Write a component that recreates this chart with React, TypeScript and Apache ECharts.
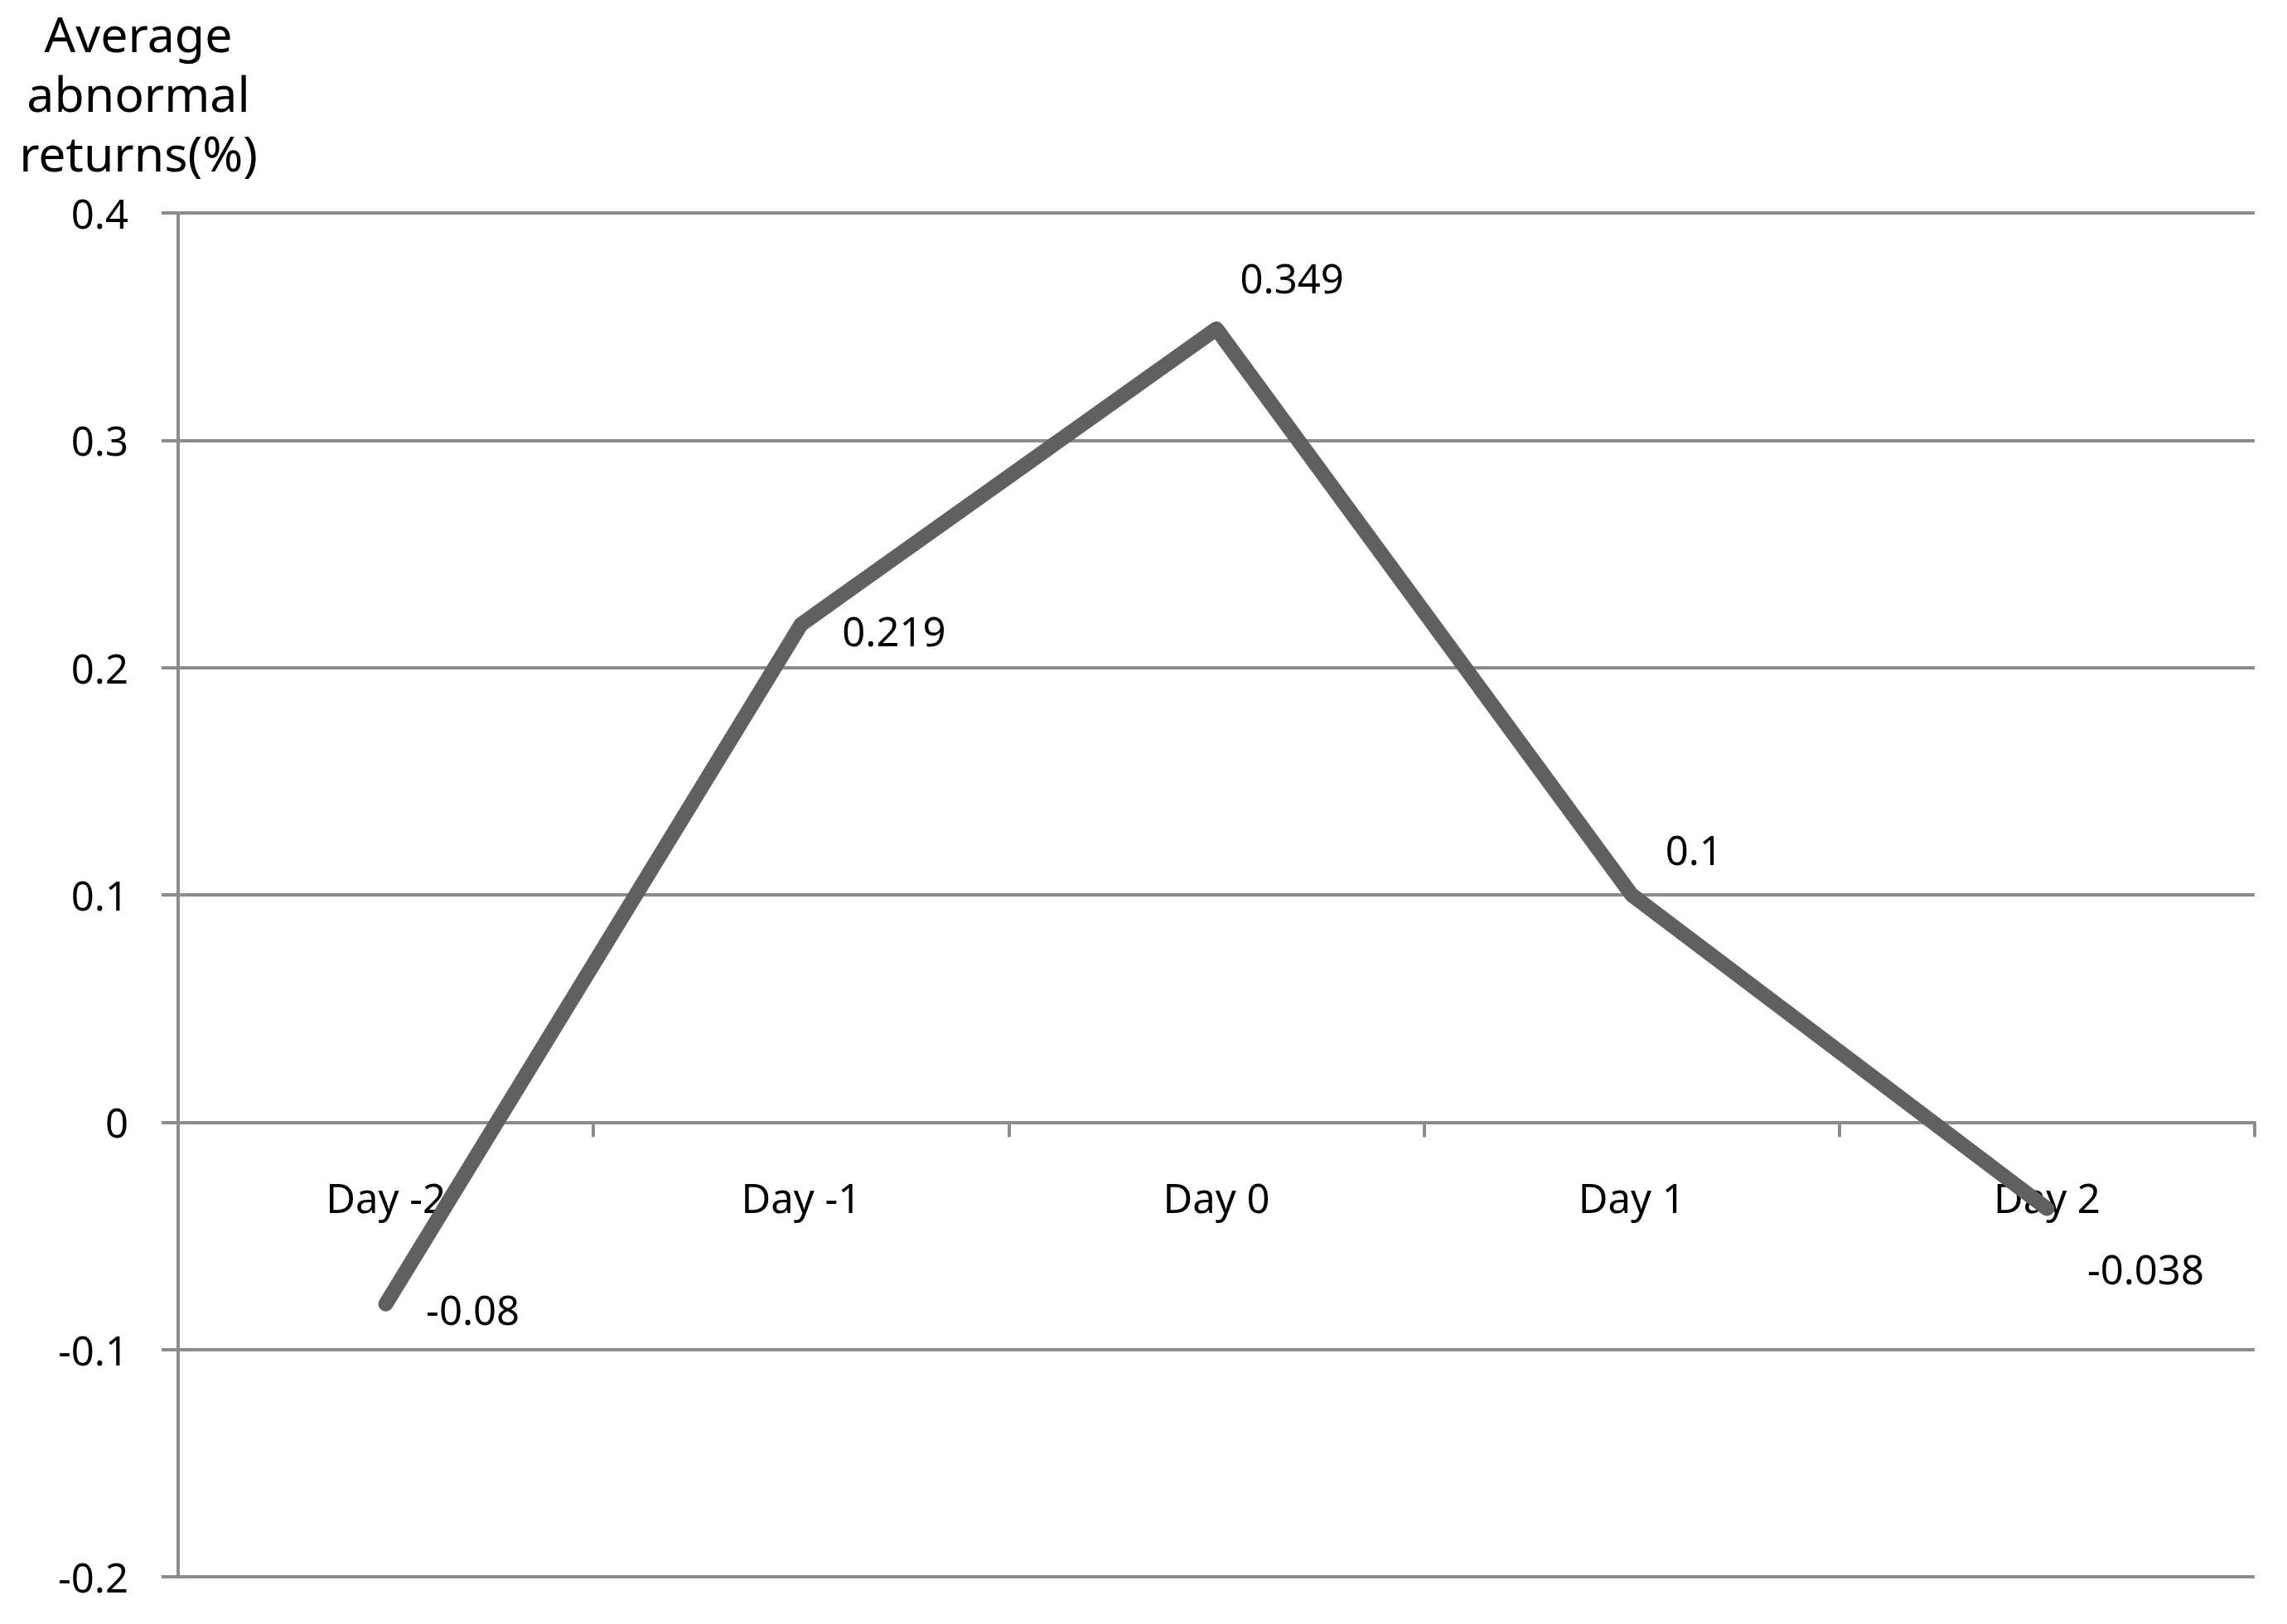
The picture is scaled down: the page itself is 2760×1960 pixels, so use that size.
import React, { useEffect, useRef } from "react";
import * as echarts from "echarts";

const categories = ["Day -2", "Day -1", "Day 0", "Day 1", "Day 2"];
const values = [-0.08, 0.219, 0.349, 0.1, -0.038];
const labelOffsets: [number, number][] = [
  [48, 6],
  [49, 7],
  [28, -62],
  [40, -55],
  [48, 72],
];
const yAxisTitle = "Average\nabnormal\nreturns(%)";
const yMin = -0.2;
const yMax = 0.4;
const yStep = 0.1;

const FONT = "'Noto Sans', 'DejaVu Sans', sans-serif";

const GRID_TOP = 257;
const GRID_BOTTOM = 57;
const H = 1960;

export default function App() {
  const ref = useRef<HTMLDivElement>(null);
  useEffect(() => {
    if (!ref.current) return;
    const chart = echarts.init(ref.current, undefined, { renderer: "svg" });
    const gridH = H - GRID_TOP - GRID_BOTTOM;
    const zeroOffset = -(gridH * (0 - yMin)) / (yMax - yMin);
    chart.setOption({
      animation: false,
      backgroundColor: "#ffffff",
      grid: {
        left: 215,
        right: 39,
        top: GRID_TOP,
        bottom: GRID_BOTTOM,
        containLabel: false,
        outerBoundsMode: "none",
      },
      graphic: [
        {
          type: "text",
          x: 167,
          y: 4,
          style: {
            text: yAxisTitle,
            align: "center",
            verticalAlign: "top",
            textAlign: "center",
            textVerticalAlign: "top",
            fontFamily: FONT,
            fontSize: 59,
            lineHeight: 72,
            fill: "#000000",
          },
        },
      ],
      xAxis: {
        type: "category",
        data: categories,
        boundaryGap: true,
        position: "bottom",
        offset: zeroOffset,
        axisLine: { onZero: false, lineStyle: { color: "#8c8c8c", width: 4 } },
        axisTick: { show: true, length: 18, lineStyle: { color: "#8c8c8c", width: 4 } },
        axisLabel: { color: "#000000", fontFamily: FONT, fontSize: 49, margin: 66 },
        splitLine: { show: false },
      },
      yAxis: {
        type: "value",
        min: yMin,
        max: yMax,
        interval: yStep,
        axisLine: { show: true, lineStyle: { color: "#8c8c8c", width: 4 } },
        axisTick: { show: true, length: 20, lineStyle: { color: "#8c8c8c", width: 4 } },
        axisLabel: {
          color: "#000000",
          fontFamily: FONT,
          fontSize: 49,
          margin: 60,
          formatter: (v: number) => String(Math.round(v * 10) / 10),
        },
        splitLine: { show: true, lineStyle: { color: "#8c8c8c", width: 4 } },
      },
      series: [
        {
          type: "line",
          data: values.map((v, i) => ({
            value: v,
            label: { offset: labelOffsets[i] },
          })),
          symbol: "circle",
          symbolSize: 1,
          showSymbol: true,
          itemStyle: { color: "#606060" },
          lineStyle: { color: "#606060", width: 18, cap: "round", join: "round" },
          label: {
            show: true,
            position: "right",
            distance: 0,
            color: "#000000",
            fontFamily: FONT,
            fontSize: 49,
            formatter: (p: any) => String(p.value),
          },
          z: 5,
        },
      ],
    });
    return () => chart.dispose();
  }, []);
  return (
    <div
      ref={ref}
      style={{ position: "fixed", left: 0, top: 0, width: 2760, height: 1960, background: "#fff" }}
    />
  );
}
